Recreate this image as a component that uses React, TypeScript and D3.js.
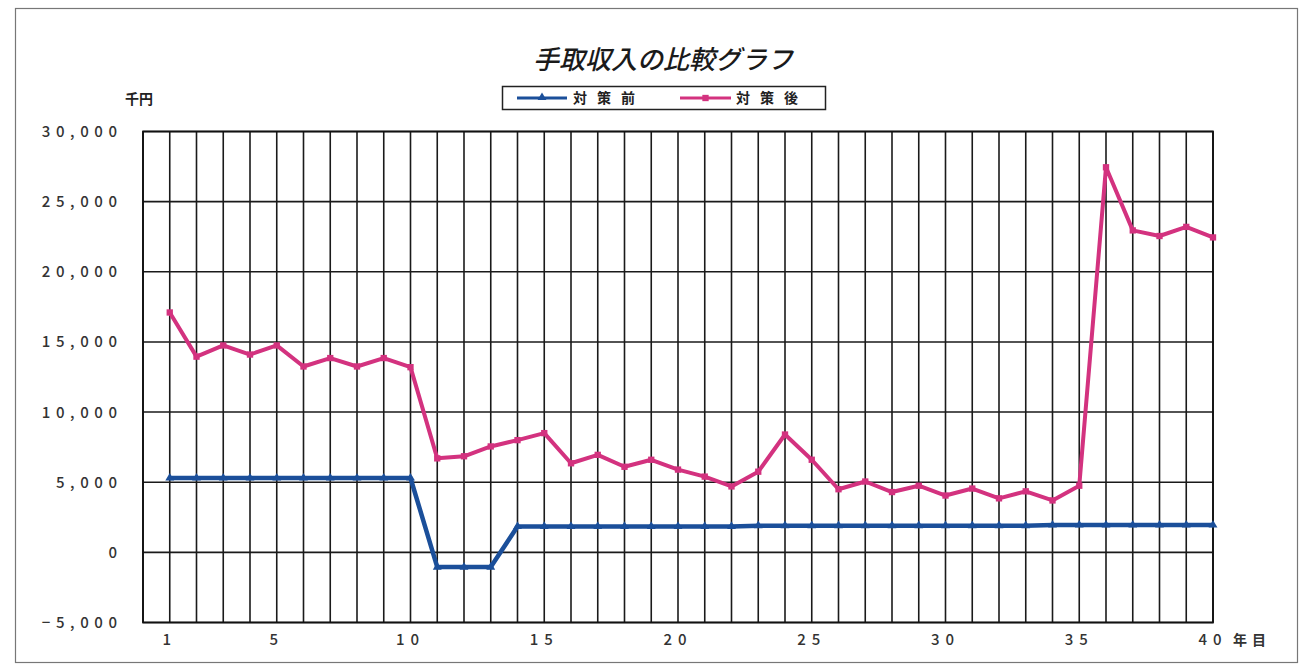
import React from "react";
import * as d3 from "d3";

// Year index (1..40)
const years: number[] = d3.range(1, 41);

// 対策前 (thousand yen)
const beforeValues: number[] = [
  5300, 5300, 5300, 5300, 5300, 5300, 5300, 5300, 5300, 5300,
  -1050, -1050, -1050, 1850, 1850, 1850, 1850, 1850, 1850, 1850,
  1850, 1850, 1900, 1900, 1900, 1900, 1900, 1900, 1900, 1900,
  1900, 1900, 1900, 1950, 1950, 1950, 1950, 1950, 1950, 1950,
];

// 対策後 (thousand yen)
const afterValues: number[] = [
  17100, 13950, 14750, 14100, 14750, 13250, 13850, 13250, 13850, 13200,
  6700, 6850, 7550, 8000, 8500, 6350, 6950, 6100, 6600, 5900,
  5400, 4700, 5750, 8400, 6600, 4500, 5050, 4300, 4750, 4050,
  4550, 3850, 4350, 3700, 4750, 27450, 22950, 22550, 23200, 22450,
];

const yTicks: number[] = [30000, 25000, 20000, 15000, 10000, 5000, 0, -5000];
const xTickLabels: number[] = [1, 5, 10, 15, 20, 25, 30, 35, 40];

const titleText = "手取収入の比較グラフ";
const seriesNames: string[] = ["対策前", "対策後"];
const unitLabel = "千円";
const xUnitLabel = "年目";

const W = 1303;
const H = 664;
const plot = { left: 143, right: 1213, top: 131.5, bottom: 622.5 };

const BLUE = "#1b4f9a";
const PINK = "#d3327f";
const FONT = "'Noto Sans CJK JP', 'DejaVu Sans', sans-serif";

export default function App() {
  const x = d3.scaleLinear().domain([0, 40]).range([plot.left, plot.right]);
  const y = d3.scaleLinear().domain([-5000, 30000]).range([plot.bottom, plot.top]);
  const fmt = d3.format(",");

  const line = d3
    .line<number>()
    .x((_, i) => x(years[i]))
    .y((d) => y(d));

  const tri = d3.symbol().type(d3.symbolTriangle).size(34)() as string;
  const sq = d3.symbol().type(d3.symbolSquare).size(40)() as string;

  const vLines = d3.range(0, 41);

  return (
    <svg
      width={W}
      height={H}
      style={{ position: "absolute", left: 0, top: 0, background: "#fff" }}
    >
      {/* outer frame */}
      <rect x={15.5} y={8.5} width={1282} height={654} fill="none" stroke="#777" strokeWidth={1.2} />

      {/* title */}
      <text
        x={663}
        y={69}
        textAnchor="middle"
        fontFamily={FONT}
        fontSize={26}
        fontStyle="italic"
        fontWeight={500}
        fill="#1a1a1a"
      >
        {titleText}
      </text>

      {/* legend */}
      <g fontFamily={FONT} fontSize={14} fontWeight={700} fill="#222" letterSpacing={10}>
        <rect x={502.5} y={86.5} width={323} height={23} fill="#fff" stroke="#222" strokeWidth={1.5} />
        <line x1={517} x2={567} y1={98} y2={98} stroke={BLUE} strokeWidth={3} />
        <path d={tri} transform={`translate(542,97.5)`} fill={BLUE} />
        <text x={573} y={103}>{seriesNames[0]}</text>
        <line x1={680} x2={731} y1={98} y2={98} stroke={PINK} strokeWidth={3} />
        <path d={sq} transform={`translate(705.5,98)`} fill={PINK} />
        <text x={736} y={103}>{seriesNames[1]}</text>
      </g>

      {/* unit */}
      <text x={125} y={104} fontFamily={FONT} fontSize={14} fontWeight={700} fill="#222">
        {unitLabel}
      </text>

      {/* grid */}
      <g stroke="#1a1a1a" strokeWidth={1.6}>
        {yTicks.map((t) => (
          <line key={"h" + t} x1={plot.left} x2={plot.right} y1={y(t)} y2={y(t)} />
        ))}
        {vLines.map((v) => (
          <line key={"v" + v} x1={x(v)} x2={x(v)} y1={plot.top} y2={plot.bottom} />
        ))}
      </g>
      <rect
        x={plot.left}
        y={plot.top}
        width={plot.right - plot.left}
        height={plot.bottom - plot.top}
        fill="none"
        stroke="#111"
        strokeWidth={1.8}
      />

      {/* y tick labels */}
      <g fontFamily={FONT} fontSize={15} fontWeight={500} fill="#333" letterSpacing={5.6}>
        {yTicks.map((t) => (
          <text key={"yl" + t} x={122.6} y={y(t) + 5.5} textAnchor="end">
            {fmt(t)}
          </text>
        ))}
      </g>

      {/* x tick labels */}
      <g fontFamily={FONT} fontSize={15} fontWeight={500} fill="#333" letterSpacing={6}>
        {xTickLabels.map((t) => (
          <text key={"xl" + t} x={x(t)} y={645} textAnchor="middle">
            {t}
          </text>
        ))}
        <text x={1233} y={645} letterSpacing={5} fontWeight={700} fontSize={14}>
          {xUnitLabel}
        </text>
      </g>

      {/* series */}
      <path d={line(beforeValues) as string} fill="none" stroke={BLUE} strokeWidth={4.5} strokeLinejoin="round" />
      {beforeValues.map((v, i) => (
        <path key={"bm" + i} d={tri} transform={`translate(${x(years[i])},${y(v)})`} fill={BLUE} />
      ))}
      <path d={line(afterValues) as string} fill="none" stroke={PINK} strokeWidth={4} strokeLinejoin="round" />
      {afterValues.map((v, i) => (
        <path key={"am" + i} d={sq} transform={`translate(${x(years[i])},${y(v)})`} fill={PINK} />
      ))}
    </svg>
  );
}
